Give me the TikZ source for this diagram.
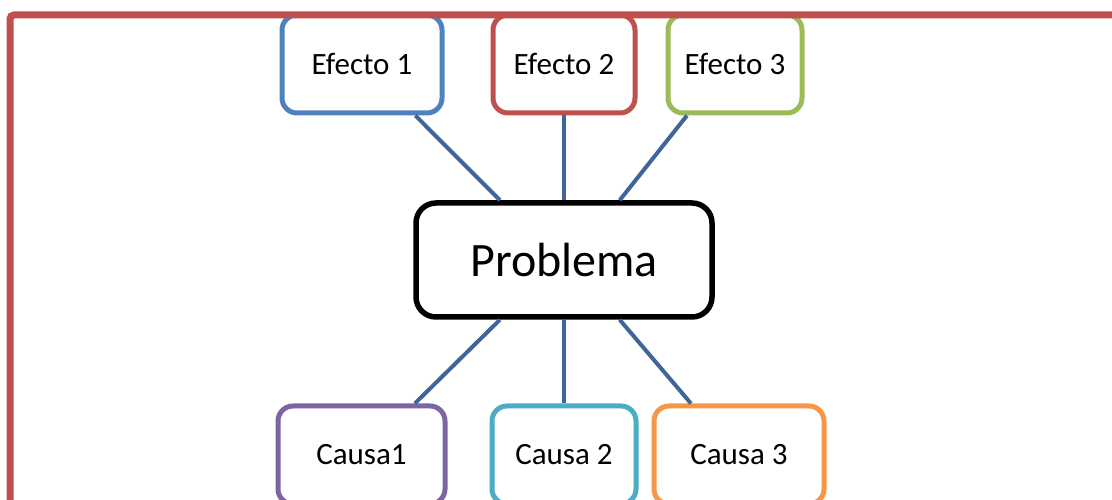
\documentclass[tikz,border=0pt]{standalone}
\usepackage{fontspec}
\setmainfont{Carlito}
\usepackage{tikz}
\usetikzlibrary{positioning}

\definecolor{frameRed}{HTML}{C0504D}
\definecolor{linkBlue}{HTML}{3F6699}
\definecolor{effBlue}{HTML}{4F81BD}
\definecolor{effRed}{HTML}{C0504D}
\definecolor{effGreen}{HTML}{9BBB59}
\definecolor{cauPurple}{HTML}{8064A2}
\definecolor{cauAqua}{HTML}{4BACC6}
\definecolor{cauOrange}{HTML}{F79646}

\tikzset{
  box/.style={draw=#1, line width=5pt, rounded corners=15pt, fill=white,
    minimum height=98pt, inner sep=0pt, font=\fontsize{31}{37}\selectfont},
  link/.style={draw=linkBlue, line width=4pt}
}

\begin{document}
\begin{tikzpicture}[x=1pt,y=1pt,on grid]
                      \useasboundingbox (0,0) rectangle (1112,500);
                      \clip (0,0) rectangle (1112,500);
                      \node[draw, line width=5.5pt, rounded corners=20pt, minimum width=296pt,
                        minimum height=114pt, font=\fontsize{48}{56}\selectfont] (prob) at (564,240) {Problema};
                      \node[box=effBlue, minimum width=160pt] (e1) [above left=196pt and 202pt of prob] {Efecto 1};
                      \node[box=effRed, minimum width=142pt] (e2) [above=196pt of prob] {Efecto 2};
                      \node[box=effGreen, minimum width=134pt] (e3) [above right=196pt and 171pt of prob] {Efecto 3};
                      \node[box=cauPurple, minimum width=167pt] (c1) [below left=195pt and 202.5pt of prob] {Causa1};
                      \node[box=cauAqua, minimum width=144pt] (c2) [below=195pt of prob] {Causa 2};
                      \node[box=cauOrange, minimum width=170pt] (c3) [below right=195pt and 175pt of prob] {Causa 3};
                      \path[link]
                      (e1.-44) edge (prob.137)
                      (e2.south) edge (prob.north)
                      (e3.-133) edge (prob.47)
                      (c1.44) edge (prob.-137)
                      (c2.north) edge (prob.south)
                      (c3.133) edge (prob.-47);
                      % marco
                      \coordinate (fbot) at (10,-20);
                      \coordinate (fright) at (1130,485);
                      \draw[frameRed, line width=7pt, rounded corners=4pt] (fbot) |- (fright);
                  \end{tikzpicture}
\end{document}
